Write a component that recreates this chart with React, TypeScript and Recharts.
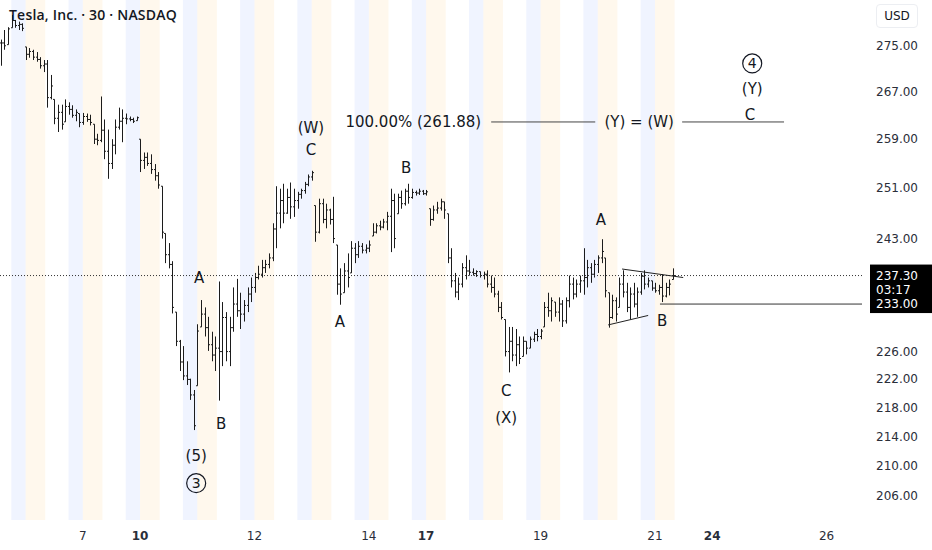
import React from 'react';
import { ComposedChart, Bar, XAxis, YAxis, ReferenceArea, ReferenceLine, ReferenceDot } from 'recharts';

// hourly bars, extended session (4:00-20:00 = 16 h per trading day), hour 0 = 4:00 on the 6th
const firstHour = -7;

const highs = [
  276.1, 277.8, 278.3, 280.5, 279.6, 279.3, 279.0,
  274.8, 274.6, 274.3, 273.9, 273.0, 272.5, 272.5, 269.9, 265.7, 264.8, 264.8, 265.7, 265.2, 264.7, 264.0, 263.3,
  263.4, 263.3, 263.1, 261.5, 259.9, 266.2, 262.3, 260.6, 259.0, 262.3, 264.3, 264.0, 263.3, 262.8, 262.6, 262.8,
  259.0, 256.8, 256.8, 256.5, 254.9, 253.6, 251.3, 243.8, 242.3, 239.5, 231.8, 227.7, 226.8, 224.6, 222.1, 220.5,
  230.0, 233.6, 232.5, 231.1, 228.9, 228.2, 236.4, 233.3, 231.8, 231.1, 235.5, 236.8, 234.7, 233.6, 235.5, 237.0,
  237.7, 238.8, 239.7, 239.7, 240.7, 245.4, 251.3, 250.9, 251.7, 250.9, 251.9, 250.9, 250.4, 250.9, 252.0, 253.2,
  253.8, 248.2, 249.3, 249.3, 248.5, 247.7, 249.6, 242.0, 238.4, 239.2, 240.7, 242.6, 242.3, 242.6, 242.3, 242.1,
  242.7, 245.4, 245.4, 245.8, 246.1, 247.2, 250.9, 250.1, 250.1, 250.6, 250.9, 251.7, 250.9, 250.6, 250.9, 250.7,
  250.7, 247.7, 248.2, 248.8, 249.3, 248.8, 246.9, 241.5, 237.7, 237.0, 239.2, 240.4, 239.7, 238.4, 238.1, 237.9,
  237.9, 238.1, 237.3, 237.0, 235.0, 233.3, 230.7, 229.6, 229.6, 229.3, 228.2, 228.2, 227.5, 228.2, 228.9, 229.3,
  229.3, 233.3, 234.7, 234.0, 233.3, 234.0, 233.6, 234.0, 237.3, 237.0, 236.7, 237.3, 241.5, 239.7, 239.2, 239.7,
  240.4, 242.9, 240.0, 234.7, 234.4, 234.0, 237.0, 238.1, 236.2, 235.5, 236.2, 235.5, 237.7, 238.1, 237.0, 236.5,
  236.2, 235.9, 237.5, 236.2, 236.7, 238.4,
];

const lows = [
  271.5, 274.3, 275.2, 278.2, 278.2, 277.8, 277.6,
  272.5, 272.9, 272.5, 272.2, 271.0, 270.4, 264.3, 265.7, 261.5, 260.2, 260.6, 261.9, 263.1, 262.6, 262.0, 261.0,
  261.4, 261.9, 261.3, 258.2, 258.0, 258.5, 255.7, 252.5, 254.1, 256.5, 260.6, 258.5, 261.5, 262.0, 261.7, 262.1,
  253.6, 254.1, 254.6, 253.3, 252.2, 250.9, 243.0, 239.2, 238.4, 231.6, 226.8, 223.2, 221.9, 221.2, 219.1, 214.9,
  221.1, 229.6, 228.2, 226.1, 224.6, 223.2, 219.0, 223.9, 224.6, 223.9, 228.9, 231.1, 229.3, 230.4, 231.8, 233.3,
  234.7, 236.7, 237.0, 237.7, 238.4, 239.5, 241.5, 244.6, 245.4, 246.9, 246.1, 246.4, 247.7, 249.3, 250.1, 251.3,
  252.2, 242.5, 243.8, 245.4, 244.6, 245.2, 242.3, 234.4, 232.9, 234.7, 235.5, 237.7, 239.2, 240.0, 240.7, 240.7,
  240.9, 243.4, 243.8, 244.3, 244.6, 244.3, 240.9, 241.5, 246.9, 247.7, 248.2, 248.5, 249.3, 249.8, 249.9, 249.9,
  249.8, 245.0, 245.8, 246.9, 247.4, 246.1, 239.2, 235.5, 234.0, 233.6, 235.5, 236.7, 237.3, 237.3, 237.1, 237.0,
  236.7, 235.5, 234.7, 234.0, 231.8, 230.7, 225.3, 223.0, 224.6, 223.9, 224.2, 225.3, 225.6, 226.5, 227.4, 227.5,
  227.8, 229.6, 231.1, 230.4, 231.1, 230.4, 229.6, 230.1, 232.5, 233.7, 234.0, 234.7, 234.4, 235.5, 236.2, 237.0,
  237.7, 239.2, 234.0, 229.5, 230.8, 230.4, 232.5, 234.0, 231.8, 230.7, 232.5, 231.1, 234.4, 235.2, 235.5, 235.0,
  234.7, 234.4, 233.3, 234.0, 234.3, 236.7,
];

const closes = [
  275.5, 275.0, 278.0, 279.5, 278.6, 278.8, 278.1,
  273.5, 274.0, 273.0, 272.6, 271.5, 271.8, 266.0, 268.0, 262.5, 263.5, 261.5, 264.5, 264.0, 263.0, 263.5, 261.8,
  262.8, 262.3, 261.8, 259.0, 258.8, 260.5, 257.0, 255.0, 258.0, 261.0, 262.0, 262.5, 262.4, 262.3, 262.0, 262.6,
  255.5, 256.0, 255.0, 254.0, 253.0, 251.5, 244.0, 240.5, 239.0, 232.5, 227.5, 224.5, 222.5, 222.0, 219.8, 215.5,
  229.0, 231.5, 229.5, 227.0, 225.5, 226.5, 226.0, 231.0, 226.0, 229.5, 233.0, 232.0, 231.5, 232.8, 234.5, 235.5,
  237.0, 237.5, 238.5, 239.0, 240.0, 244.5, 247.0, 249.0, 247.0, 249.5, 248.0, 249.0, 250.0, 250.6, 251.6, 252.8,
  253.5, 244.0, 248.5, 246.0, 247.5, 246.0, 243.0, 236.0, 234.5, 238.0, 237.0, 241.5, 240.5, 241.8, 241.2, 241.5,
  242.0, 244.0, 245.0, 244.8, 245.6, 246.5, 249.0, 243.0, 249.5, 248.5, 250.5, 249.5, 250.3, 250.2, 250.5, 250.1,
  250.4, 246.0, 247.5, 247.8, 248.8, 247.5, 240.0, 236.5, 234.8, 236.0, 238.5, 238.0, 237.8, 237.6, 237.9, 237.3,
  237.5, 236.0, 235.5, 234.5, 232.5, 231.0, 226.0, 227.5, 225.5, 227.0, 225.0, 227.5, 226.5, 227.8, 228.5, 228.2,
  229.0, 232.5, 232.0, 233.5, 231.8, 233.0, 230.5, 233.5, 236.0, 234.5, 236.0, 236.5, 237.0, 238.5, 237.5, 239.0,
  240.0, 241.0, 235.0, 231.0, 233.5, 231.5, 236.0, 234.8, 232.5, 234.5, 233.0, 234.8, 237.2, 236.0, 236.5, 235.4,
  235.0, 235.5, 234.2, 235.5, 236.0, 237.3,
];

// time axis: trading day number counted from the 6th
const dayNumbers = [1, 2, 4, 6, 7, 9, 11, 12, 14];
const dayLabels = ['7', '10', '12', '14', '17', '19', '21', '24', '26'];
const weekStarts = ['10', '17', '24'];
const sessionDays = [0, 1, 2, 3, 4, 5, 6, 7, 8, 9, 10, 11];

const priceTicks = [206, 210, 214, 218, 222, 226, 243, 251, 259, 267, 275];

const lastPrice = 237.3;
const countdown = '03:17';
const supportPrice = 233.0;
const supportFrom = 177.4;

const fibLevel = 261.88;
const fibText = '100.00% (261.88)';
const fibTextAt = 127.4;
const fibEqText = '(Y) = (W)';
const fibEqAt = 171.6;
const fibSegments = [[130.2, 159.3], [183.6, 212.1]];

const waveTexts = ['(W)', 'C', 'A', '(5)', 'B', 'A', 'B', 'C', '(X)', 'A', 'B', '(Y)', 'C'];
const waveHours = [79.8, 79.8, 48.5, 47.7, 54.7, 87.9, 106.4, 134.4, 134.4, 160.9, 178.0, 203.2, 202.6];
const wavePrices = [260.9, 257.2, 236.9, 211.4, 215.8, 230.4, 254.3, 220.3, 216.6, 245.9, 230.5, 267.4, 263.1];

const circledTexts = ['3', '4'];
const circledHours = [47.7, 203.2];
const circledPrices = [207.7, 271.9];

const triangleUpper = [[166.8, 238.3], [183.9, 237.0]];
const triangleLower = [[162.9, 229.9], [174.1, 231.3]];

const HOURS_PER_DAY = 16;
const POST_HOURS = 4;
const PRE_HOURS = 5.5;

const bars = highs.map((h, i) => ({
  t: firstHour + i,
  range: [lows[i], h],
  high: h,
  low: lows[i],
  open: i > 0 ? closes[i - 1] : closes[0],
  close: closes[i],
}));

const INK = '#131722';
const FONT = '"DejaVu Sans", sans-serif';

const OhlcBar = (props: any) => {
  const { x, y, width, height, payload } = props;
  if (x == null || y == null) return null;
  const top = Math.min(y, y + height);
  const h = Math.abs(height);
  const cx = Math.round(x + width / 2) + 0.5;
  const { high, low, open, close } = payload;
  const span = Math.log(high) - Math.log(low) || 1;
  const py = (v: number) => {
    const c = Math.min(high, Math.max(low, v));
    return top + (h * (Math.log(high) - Math.log(c))) / span;
  };
  return (
    <g stroke="#1c1c1c" strokeWidth={1}>
      <line x1={cx} x2={cx} y1={top} y2={top + Math.max(h, 1)} />
      <line x1={cx - 1.5} x2={cx} y1={py(open)} y2={py(open)} />
      <line x1={cx} x2={cx + 1.5} y1={py(close)} y2={py(close)} />
    </g>
  );
};

const PriceTick = (props: any) => {
  const { y, payload } = props;
  return (
    <text x={876} y={y} dy={4} fontSize={12} fontFamily={FONT} fill="#2a2e39">
      {payload.value.toFixed(2)}
    </text>
  );
};

const DayTick = (props: any) => {
  const { x, payload } = props;
  const label = dayLabels[dayNumbers.indexOf(payload.value / HOURS_PER_DAY)];
  return (
    <text
      x={x}
      y={540}
      textAnchor="middle"
      fontSize={12}
      fontFamily={FONT}
      fontWeight={weekStarts.includes(label) ? 'bold' : 'normal'}
      fill="#2a2e39"
    >
      {label}
    </text>
  );
};

const LastPriceTag = (props: any) => {
  const { viewBox } = props;
  if (!viewBox) return null;
  const right = viewBox.x + viewBox.width;
  const y = viewBox.y;
  return (
    <g>
      <rect x={right + 8} y={y - 11} width={70} height={34} fill="#000" />
      <text x={right + 14} y={y + 4} fontSize={12} fontFamily={FONT} fill="#fff">
        {lastPrice.toFixed(2)}
      </text>
      <text x={right + 14} y={y + 18} fontSize={12} fontFamily={FONT} fill="#fff">
        {countdown}
      </text>
    </g>
  );
};

const SupportTag = (props: any) => {
  const { viewBox } = props;
  if (!viewBox) return null;
  const right = viewBox.x + viewBox.width;
  const y = viewBox.y;
  return (
    <g>
      <rect x={right + 8} y={y - 9} width={70} height={18} fill="#000" />
      <text x={right + 14} y={y + 4} fontSize={12} fontFamily={FONT} fill="#fff">
        {supportPrice.toFixed(2)}
      </text>
    </g>
  );
};

export default function App() {
  return (
    <div style={{ position: 'fixed', left: 0, top: 0, width: 932, height: 550, background: '#fff', fontFamily: FONT }}>
      <ComposedChart width={932} height={550} data={bars} margin={{ top: 0, right: 0, left: 0, bottom: 0 }}>
        {sessionDays.map((d) => (
          <ReferenceArea
            key={`post-${d}`}
            x1={d * HOURS_PER_DAY - POST_HOURS}
            x2={d * HOURS_PER_DAY}
            fill="#2962ff"
            fillOpacity={0.07}
            stroke="none"
          />
        ))}
        {sessionDays.map((d) => (
          <ReferenceArea
            key={`pre-${d}`}
            x1={d * HOURS_PER_DAY}
            x2={d * HOURS_PER_DAY + PRE_HOURS}
            fill="#ff9800"
            fillOpacity={0.07}
            stroke="none"
          />
        ))}
        <XAxis
          dataKey="t"
          type="number"
          domain={[-7.16, 233.9]}
          allowDataOverflow
          ticks={dayNumbers.map((d) => d * HOURS_PER_DAY)}
          tick={<DayTick />}
          axisLine={false}
          tickLine={false}
          height={30}
        />
        <YAxis
          orientation="right"
          scale="log"
          domain={[202.85, 283.2]}
          allowDataOverflow
          ticks={priceTicks}
          tick={<PriceTick />}
          axisLine={false}
          tickLine={false}
          width={70}
        />
        <Bar dataKey="range" barSize={2} shape={<OhlcBar />} isAnimationActive={false} />
        <ReferenceLine y={lastPrice} stroke="#333" strokeDasharray="1 2" label={<LastPriceTag />} />
        <ReferenceLine
          segment={[{ x: supportFrom, y: supportPrice }, { x: 233.9, y: supportPrice }]}
          stroke="#333"
          label={<SupportTag />}
        />
        {fibSegments.map(([a, b], i) => (
          <ReferenceLine key={`fib-${i}`} segment={[{ x: a, y: fibLevel }, { x: b, y: fibLevel }]} stroke="#444" />
        ))}
        <ReferenceLine segment={triangleUpper.map(([x, y]) => ({ x, y }))} stroke="#222" />
        <ReferenceLine segment={triangleLower.map(([x, y]) => ({ x, y }))} stroke="#222" />
        <ReferenceDot
          x={fibTextAt}
          y={fibLevel}
          r={1}
          shape={(p: any) => (
            <text x={p.cx} y={p.cy} dy={5} textAnchor="end" fontSize={15} fontFamily={FONT} fill={INK}>
              {fibText}
            </text>
          )}
        />
        <ReferenceDot
          x={fibEqAt}
          y={fibLevel}
          r={1}
          shape={(p: any) => (
            <text x={p.cx} y={p.cy} dy={5} textAnchor="middle" fontSize={15} fontFamily={FONT} fill={INK}>
              {fibEqText}
            </text>
          )}
        />
        {waveTexts.map((w, i) => (
          <ReferenceDot
            key={`w-${i}`}
            x={waveHours[i]}
            y={wavePrices[i]}
            r={1}
            shape={(p: any) => (
              <text x={p.cx} y={p.cy} dy={5} textAnchor="middle" fontSize={15} fontFamily={FONT} fill={INK}>
                {w}
              </text>
            )}
          />
        ))}
        {circledTexts.map((c, i) => (
          <ReferenceDot
            key={`c-${i}`}
            x={circledHours[i]}
            y={circledPrices[i]}
            r={1}
            shape={(p: any) => (
              <g>
                <circle cx={p.cx} cy={p.cy} r={9.5} fill="none" stroke={INK} strokeWidth={1.2} />
                <text x={p.cx} y={p.cy} dy={5} textAnchor="middle" fontSize={14} fontFamily={FONT} fill={INK}>
                  {c}
                </text>
              </g>
            )}
          />
        ))}
      </ComposedChart>
      <div
        style={{
          position: 'absolute',
          left: 9,
          top: 5,
          fontSize: 14,
          fontWeight: 600,
          color: INK,
          fontFamily: '"Open Sans", sans-serif',
          letterSpacing: 0.2,
        }}
      >
        Tesla, Inc. · 30 · NASDAQ
      </div>
      <div
        style={{
          position: 'absolute',
          left: 876,
          top: 4,
          width: 40,
          height: 22,
          lineHeight: '22px',
          textAlign: 'center',
          fontSize: 12,
          color: INK,
          border: '1px solid #eceef2',
          borderRadius: 4,
        }}
      >
        USD
      </div>
    </div>
  );
}
